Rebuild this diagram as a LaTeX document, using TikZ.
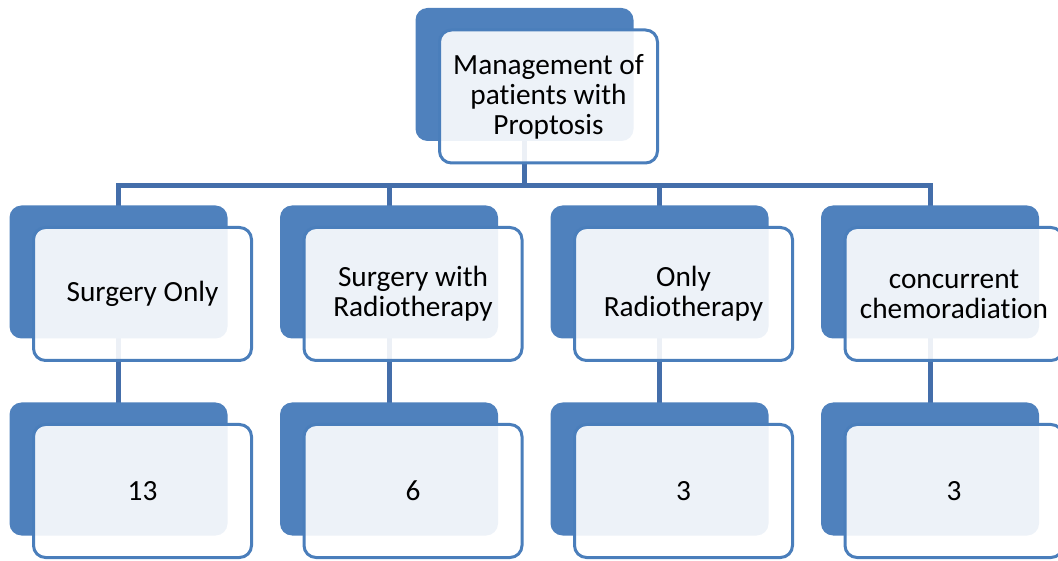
\documentclass[tikz,border=0pt]{standalone}
\usepackage{fontspec}
\setmainfont[Ligatures=NoCommon]{Carlito}
\usetikzlibrary{positioning,shadows,backgrounds,calc}
\definecolor{cardblue}{RGB}{79,129,189}
\definecolor{cardline}{RGB}{74,126,187}
\definecolor{linkblue}{RGB}{68,110,170}

\begin{document}
\begin{tikzpicture}[
  x=1pt,y=1pt,
  node distance=197pt and 270.5pt,
  on grid,
  card/.style={rectangle,rounded corners=12pt,draw=cardline,line width=3pt,
    fill=white,fill opacity=0.9,text opacity=1,
    minimum width=218pt,minimum height=133pt,align=center,
    font=\fontsize{29.3}{30}\selectfont,
    general shadow={shadow xshift=-24pt,shadow yshift=22pt,fill=cardblue,fill opacity=1,draw=none}},
  link/.style={draw=linkblue,line width=5pt}]
  \useasboundingbox (0,0) rectangle (1058,560);
  % top-management s-treatment n-number of patients
  \node [card] (top) at (548.5,463.5) {Management of\\patients with\\Proptosis};
  \node [card] (s1) [below left=197.5pt and 406pt of top] {Surgery Only};
  \node [card] (s2) [right=of s1] {Surgery with\\Radiotherapy};
  \node [card] (s3) [right=of s2] {Only\\Radiotherapy};
  \node [card] (s4) [right=of s3] {concurrent\\chemoradiation};
  \node [card] (n1) [below=of s1] {13};
  \node [card] (n2) [below=of s2] {6};
  \node [card] (n3) [below=of s3] {3};
  \node [card] (n4) [below=of s4] {3};
  % centres of the blue back cards
  \foreach \c in {top,s1,s2,s3,s4,n1,n2,n3,n4}
    \coordinate (b\c) at ([shift={(-24pt,22pt)}]\c.center);
  \coordinate (split) at ([yshift=-111pt]btop);
  \begin{scope}[on background layer]
    \foreach \i in {1,...,4} {
      \draw [link] (btop) -- (split) -| (bs\i);
      \draw [link] (bs\i) -- (bn\i);
    }
  \end{scope}
\end{tikzpicture}
\end{document}
